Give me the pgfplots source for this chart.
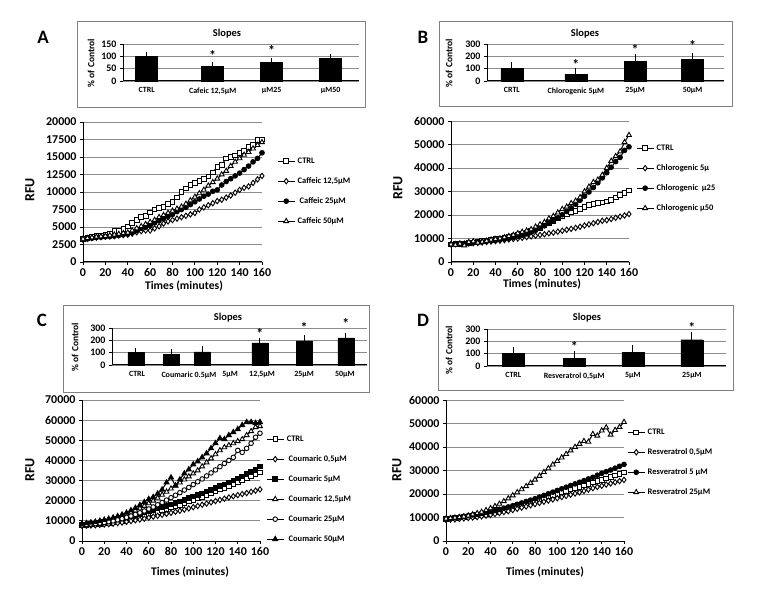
\documentclass[border=0pt]{standalone}
\usepackage{fontspec}
\setmainfont{Carlito}
\usepackage{pgfplots}
\usepackage{pgfplotstable}
\pgfplotsset{compat=1.18}
\newcommand\fs[1]{\fontsize{#1}{#1}\selectfont\bfseries}

% kinetics, RFU every 4 min
\pgfplotstableread{
t ctrl c12 c25 c50
0 3300 3200 3200 3300
4 3450 3350 3300 3400
8 3600 3450 3400 3500
12 3700 3500 3500 3600
16 3750 3550 3550 3650
20 3900 3650 3600 3700
24 4000 3650 3650 3800
28 4400 3700 3700 3900
32 4450 3800 3800 4000
36 4700 3850 3900 4100
40 5100 3900 4000 4200
44 5600 4050 4200 4500
48 6000 4250 4500 4800
52 6400 4400 4800 5100
56 6600 4500 5000 5400
60 7100 4500 5200 5700
64 7500 4800 5600 6000
68 7700 5100 5900 6400
72 7900 5500 6200 6700
76 8300 5800 6500 7000
80 8600 6000 6800 7300
84 9200 6200 7200 7600
88 10000 6400 7500 7900
92 10500 6600 7800 8300
96 11000 6800 8200 8800
100 11300 7000 8600 9300
104 11600 7500 9000 9800
108 11900 7800 9400 10300
112 12200 8100 9700 10900
116 12800 8400 10100 11400
120 13600 8700 10300 11900
124 13900 8900 11000 12500
128 14800 9200 11500 13000
132 15000 9500 11900 13700
136 15200 9900 12300 14300
140 15600 10300 12700 14800
144 15900 10600 13200 15300
148 16400 10800 13700 15700
152 16700 11300 14300 16200
156 17400 11800 14800 16700
160 17500 12300 15600 17100
}\tabA

\pgfplotstableread{
t ctrl c5 c25 c50
0 7500 7500 7500 7500
4 7700 7600 7600 7300
8 7800 7700 7700 7800
12 7900 7800 7800 7000
16 8100 7900 8000 8500
20 8400 8000 8200 8800
24 8700 8100 8400 8200
28 9000 8300 8600 8600
32 9200 8500 8800 9000
36 9500 8700 9000 9500
40 9800 8900 9200 9700
44 10000 9100 9500 10000
48 10300 9300 9800 10500
52 10600 9600 10100 11000
56 11000 9800 10500 11500
60 11400 10000 10900 12200
64 11900 10300 11400 12800
68 12500 10600 12000 13300
72 13100 10900 12700 13900
76 13800 11200 13500 15000
80 14500 11500 14400 16000
84 15500 11800 15400 17000
88 16500 12200 16500 18500
92 17500 12500 17600 19500
96 18500 12900 18800 21000
100 19500 13300 20100 22500
104 20300 13700 21500 23500
108 21000 14100 23000 25000
112 21800 14500 24600 26000
116 22600 15000 26300 27500
120 23400 15500 28000 30000
124 24200 16000 29800 32000
128 24800 16500 31700 34000
132 25200 17000 33700 35000
136 25300 17500 35800 37000
140 25700 17800 38000 40000
144 26500 18300 40300 43000
148 27500 18800 42700 45000
152 28500 19300 44500 47000
156 29500 19800 47500 51000
160 30500 20400 49000 54000
}\tabB

\pgfplotstableread{
t ctrl c05 c5 c125 c25 c50
0 8000 7500 8000 8500 8000 8500
4 8100 7600 8200 8700 8200 8800
8 8200 7700 8400 8900 8400 9100
12 8400 7800 8700 9200 8600 9500
16 8600 8000 9000 9500 8900 10000
20 8800 8200 9300 10000 9200 10500
24 9100 8400 9700 10500 9600 11000
28 9400 8600 10100 11000 10000 11600
32 9700 8900 10600 11700 10500 12300
36 10100 9200 11100 12400 11100 13100
40 10500 9500 11700 13200 11700 14000
44 11000 9900 12300 14100 12400 15200
48 11500 10300 12900 15100 13200 16400
52 12000 10700 13500 16200 14000 17800
56 12600 11100 14100 17400 14900 19300
60 13200 11600 14800 18700 15900 20800
64 13800 12100 15500 20000 16900 21800
68 14500 12500 16200 21400 18000 23500
72 15200 13000 16800 22900 19100 25500
76 15900 13500 17500 24400 20300 29000
80 16600 14000 18200 26000 21500 31500
84 17300 14500 18900 27500 22700 27500
88 18000 15000 19600 29000 24000 30500
92 18800 15600 20400 30500 25300 33500
96 19600 16200 21200 32000 26600 35500
100 20400 16800 22000 33500 28000 38000
104 21200 17400 22800 35000 29400 39500
108 22000 18000 23600 37000 30800 41500
112 22800 18600 24500 39000 32300 43500
116 23700 19200 25400 41000 33800 46000
120 24600 19800 26300 43000 35300 48500
124 25500 20400 27200 45000 36900 51000
128 26400 21000 28100 46500 38500 50500
132 27300 21600 29100 47500 40000 52500
136 28200 22200 30100 48500 41500 54000
140 29100 22800 31100 49500 45000 55500
144 30000 23300 32100 50500 44000 57500
148 31000 23800 33200 52500 46000 59000
152 32000 24400 34300 54500 48500 59000
156 33000 25000 35500 56500 51500 58500
160 34000 25600 37000 57000 53500 59000
}\tabC

\pgfplotstableread{
t ctrl c05 c5 c25
0 9500 9000 9500 9500
4 9600 9100 9700 9700
8 9800 9200 9900 9900
12 10000 9400 10200 10100
16 10200 9600 10500 10400
20 10400 9800 10800 10800
24 10700 10000 11100 11300
28 11000 10200 11400 11800
32 11300 10500 11800 12400
36 11600 10800 12200 13100
40 12000 11100 12600 13900
44 12400 11500 13000 14800
48 12800 11900 13500 15800
52 13300 12300 14000 16900
56 13800 12700 14500 18100
60 14300 13200 15000 19400
64 14800 13700 15600 20700
68 15300 14200 16200 22000
72 15900 14700 16800 23300
76 16500 15200 17400 24700
80 17100 15700 18000 26100
84 17700 16200 18700 27700
88 18300 16700 19400 29300
92 18900 17200 20100 30900
96 19500 17700 20800 32500
100 20100 18200 21500 34000
104 20700 18700 22200 35500
108 21300 19200 22900 37000
112 21900 19700 23600 38500
116 22500 20200 24300 40000
120 23100 20700 25000 41300
124 23700 21300 25700 42500
128 24300 21900 26400 42200
132 24900 22500 27100 45500
136 25500 23000 28000 44800
140 26100 23500 28800 47000
144 26700 24000 29500 48300
148 27300 24500 30200 45200
152 27900 25000 31000 47200
156 28500 25500 31800 48500
160 29100 26000 32600 50600
}\tabD

\pgfplotsset{
  base/.style={scale only axis, axis lines*=left,
    axis line style={black, line width=1bp}, tick style={black, line width=0.9bp},
    tick align=outside, major tick length=3bp, ymajorgrids,
    grid style={black!45, line width=0.8bp}, scaled ticks=false,
    /pgf/number format/assume math mode=true, /pgf/number format/1000 sep={},
    clip=false},
  main/.style={base, width=178bp, height=141bp, xmin=0, xmax=160, ymin=0,
    xtick={0,20,...,160}, tick label style={font=\fs{12}},
    every axis plot/.append style={black, line width=1bp, mark size=2.3bp},
    legend cell align=left,
    legend style={draw=none, fill=none, font=\fs{8.5}, anchor=north west,
      row sep=12bp, inner sep=0pt, column sep=2bp,
      nodes={inner sep=0.5bp, text height=6bp, text depth=1bp}}},
  inset/.style={base, height=37bp, ymin=0, ybar, bar shift=0pt,
    x tick style={draw=none}, yticklabel style={font=\fs{10}},
    xticklabel style={font=\fs{8}},
    every axis plot/.append style={fill=black, draw=black}},
  sq/.style={mark=square*, mark options={fill=white, line width=0.9bp}},
  di/.style={mark=diamond*, mark size=2.7bp, mark options={fill=white, line width=0.9bp}},
  fc/.style={mark=*, mark options={fill=black}},
  oc/.style={mark=*, mark options={fill=white, line width=0.9bp}},
  tr/.style={mark=triangle*, mark size=2.8bp, mark options={fill=white, line width=0.9bp}},
  ft/.style={mark=triangle*, mark size=2.8bp, mark options={fill=black}},
  fsq/.style={mark=square*, mark options={fill=black}},
  eb/.style={error bars/.cd, y dir=plus, y explicit,
    error bar style={black, line width=0.9bp},
    error mark options={black, mark size=2.5bp, line width=0.9bp}},
}
\tikzset{astk/.style={font=\fs{14}, yshift=-1.5bp}}

\begin{document}
\begin{tikzpicture}
\useasboundingbox (0,0) rectangle (759bp,589bp);

% frames round the slope insets
\draw[black!50, line width=0.8bp] (77bp,568bp) rectangle (365bp,482bp);
\draw[black!50, line width=0.8bp] (439bp,568bp) rectangle (732bp,483bp);
\draw[black!50, line width=0.8bp] (63bp,284bp) rectangle (369bp,197bp);
\draw[black!50, line width=0.8bp] (438bp,284bp) rectangle (733bp,199bp);

% panel letters
\node[font=\fs{19}] at (43bp,552bp) {A};
\node[font=\fs{19}] at (423bp,552bp) {B};
\node[font=\fs{19}] at (42bp,269bp) {C};
\node[font=\fs{19}] at (423bp,269bp) {D};

% inset titles and y labels
\node[font=\fs{10.5}] at (227bp,555bp) {Slopes};
\node[font=\fs{10.5}] at (585bp,555bp) {Slopes};
\node[font=\fs{10.5}] at (228bp,271bp) {Slopes};
\node[font=\fs{10.5}] at (587bp,271bp) {Slopes};
\node[font=\fs{9.5}, rotate=90] at (91bp,526bp) {\% of Control};
\node[font=\fs{9.5}, rotate=90] at (449bp,526bp) {\% of Control};
\node[font=\fs{9.5}, rotate=90] at (75bp,242bp) {\% of Control};
\node[font=\fs{9.5}, rotate=90] at (449bp,239bp) {\% of Control};

% main axis labels
\node[font=\fs{14}, rotate=90] at (30bp,399bp) {RFU};
\node[font=\fs{14}, rotate=90] at (398bp,401bp) {RFU};
\node[font=\fs{14}, rotate=90] at (30bp,119bp) {RFU};
\node[font=\fs{14}, rotate=90] at (397bp,119bp) {RFU};
\node[font=\fs{11.7}] at (184bp,303bp) {Times (minutes)};
\node[font=\fs{11.7}] at (542bp,305bp) {Times (minutes)};
\node[font=\fs{11.7}] at (190bp,17bp) {Times (minutes)};
\node[font=\fs{11.7}] at (545bp,17bp) {Times (minutes)};

% ---- A inset
\begin{axis}[inset, at={(123bp,508bp)}, anchor=south west, width=236bp,
  xmin=-0.5, xmax=3.5, ymax=150, ytick={0,50,100,150}, bar width=22bp,
  xtick={-0.1,1.02,2.02,3.02},
  xticklabels={CTRL,{Cafeic 12,5µM},µM25,µM50}]
\addplot[eb] coordinates {(-0.1,100) +- (0,9) (1.02,58) +- (0,10) (2.02,76) +- (0,9) (3.02,92) +- (0,7)};
\node[astk] at (axis cs:1.02,109) {*};
\node[astk] at (axis cs:2.02,128) {*};
\end{axis}

% ---- B inset
\begin{axis}[inset, at={(487bp,508bp)}, anchor=south west, width=237bp,
  xmin=-0.5, xmax=3.5, ymax=300, ytick={0,100,200,300}, bar width=22bp,
  xtick={-0.08,1,2,2.97},
  xticklabels={CRTL,{Chlorogenic 5µM},25µM,50µM}]
\addplot[eb] coordinates {(-0.08,100) +- (0,30) (1,55) +- (0,33) (2,162) +- (0,35) (2.97,178) +- (0,32)};
\node[astk] at (axis cs:1,145) {*};
\node[astk] at (axis cs:2,267) {*};
\node[astk] at (axis cs:2.97,297) {*};
\end{axis}

% ---- C inset
\begin{axis}[inset, at={(112bp,224bp)}, anchor=south west, width=255bp,
  xmin=-0.5, xmax=5.5, ymax=300, ytick={0,100,200,300}, bar width=16bp,
  xtick={0.09,1.31,2.28,3.03,4.02,4.98},
  xticklabels={CTRL,{Coumaric 0.5µM},5µM,{12,5µM},25µM,50µM}]
\addplot[eb] coordinates {(0.06,100) +- (0,20) (0.89,88) +- (0,25) (1.62,106) +- (0,26)
  (2.98,180) +- (0,22) (4.02,195) +- (0,24) (5.0,220) +- (0,22)};
\node[astk] at (axis cs:2.98,270) {*};
\node[astk] at (axis cs:4.02,319) {*};
\node[astk] at (axis cs:5.0,346) {*};
\end{axis}

% ---- D inset
\begin{axis}[inset, at={(487bp,223bp)}, anchor=south west, width=239bp,
  xmin=-0.5, xmax=3.5, ymax=300, ytick={0,100,200,300}, bar width=22bp,
  xtick={-0.06,0.96,1.94,2.93},
  xticklabels={CTRL,{Resveratrol 0,5µM},5µM,25µM}]
\addplot[eb] coordinates {(-0.06,100) +- (0,35) (0.96,60) +- (0,40) (1.94,108) +- (0,38) (2.93,213) +- (0,41)};
\node[astk] at (axis cs:0.96,170) {*};
\node[astk] at (axis cs:2.93,327) {*};
\end{axis}

% ---- A kinetics
\begin{axis}[main, at={(83bp,327bp)}, anchor=south west, width=179bp, height=140bp,
  ymax=20000, ytick={0,2500,...,20000},
  legend style={at={(axis description cs:1.084,0.75)}}]
\addplot[sq] table[x=t,y=ctrl] {\tabA};
\addplot[di] table[x=t,y=c12] {\tabA};
\addplot[fc] table[x=t,y=c25] {\tabA};
\addplot[tr] table[x=t,y=c50] {\tabA};
\legend{CTRL,{Caffeic 12,5µM},{\ Caffeic 25µM},Caffeic 50µM}
\end{axis}

% ---- B kinetics
\begin{axis}[main, at={(451bp,327bp)}, anchor=south west,
  ymax=60000, ytick={0,10000,...,60000},
  legend style={at={(axis description cs:1.039,0.837)}}]
\addplot[sq] table[x=t,y=ctrl] {\tabB};
\addplot[di] table[x=t,y=c5] {\tabB};
\addplot[fc] table[x=t,y=c25] {\tabB};
\addplot[tr] table[x=t,y=c50] {\tabB};
\legend{CTRL,Chlorogenic 5µ,{Chlorogenic\ \ µ25},Chlorogenic µ50}
\end{axis}

% ---- C kinetics
\begin{axis}[main, at={(82bp,48bp)}, anchor=south west,
  ymax=70000, ytick={0,10000,...,70000},
  legend style={at={(axis description cs:1.034,0.752)}}]
\addplot[sq] table[x=t,y=ctrl] {\tabC};
\addplot[di] table[x=t,y=c05] {\tabC};
\addplot[fsq] table[x=t,y=c5] {\tabC};
\addplot[tr] table[x=t,y=c125] {\tabC};
\addplot[oc] table[x=t,y=c25] {\tabC};
\addplot[ft] table[x=t,y=c50] {\tabC};
\legend{CTRL,{\ Coumaric 0,5µM},{\ Coumaric 5µM},{\ Coumaric 12,5µM},{\ Coumaric 25µM},{\ Coumaric 50µM}}
\end{axis}

% ---- D kinetics
\begin{axis}[main, at={(446bp,48bp)}, anchor=south west,
  ymax=60000, ytick={0,10000,...,60000},
  legend style={at={(axis description cs:1.017,0.801)}}]
\addplot[sq] table[x=t,y=ctrl] {\tabD};
\addplot[di] table[x=t,y=c05] {\tabD};
\addplot[fc] table[x=t,y=c5] {\tabD};
\addplot[tr] table[x=t,y=c25] {\tabD};
\legend{CTRL,{Resveratrol 0,5µM},{Resveratrol 5 µM},{Resveratrol 25µM}}
\end{axis}
\end{tikzpicture}
\end{document}
